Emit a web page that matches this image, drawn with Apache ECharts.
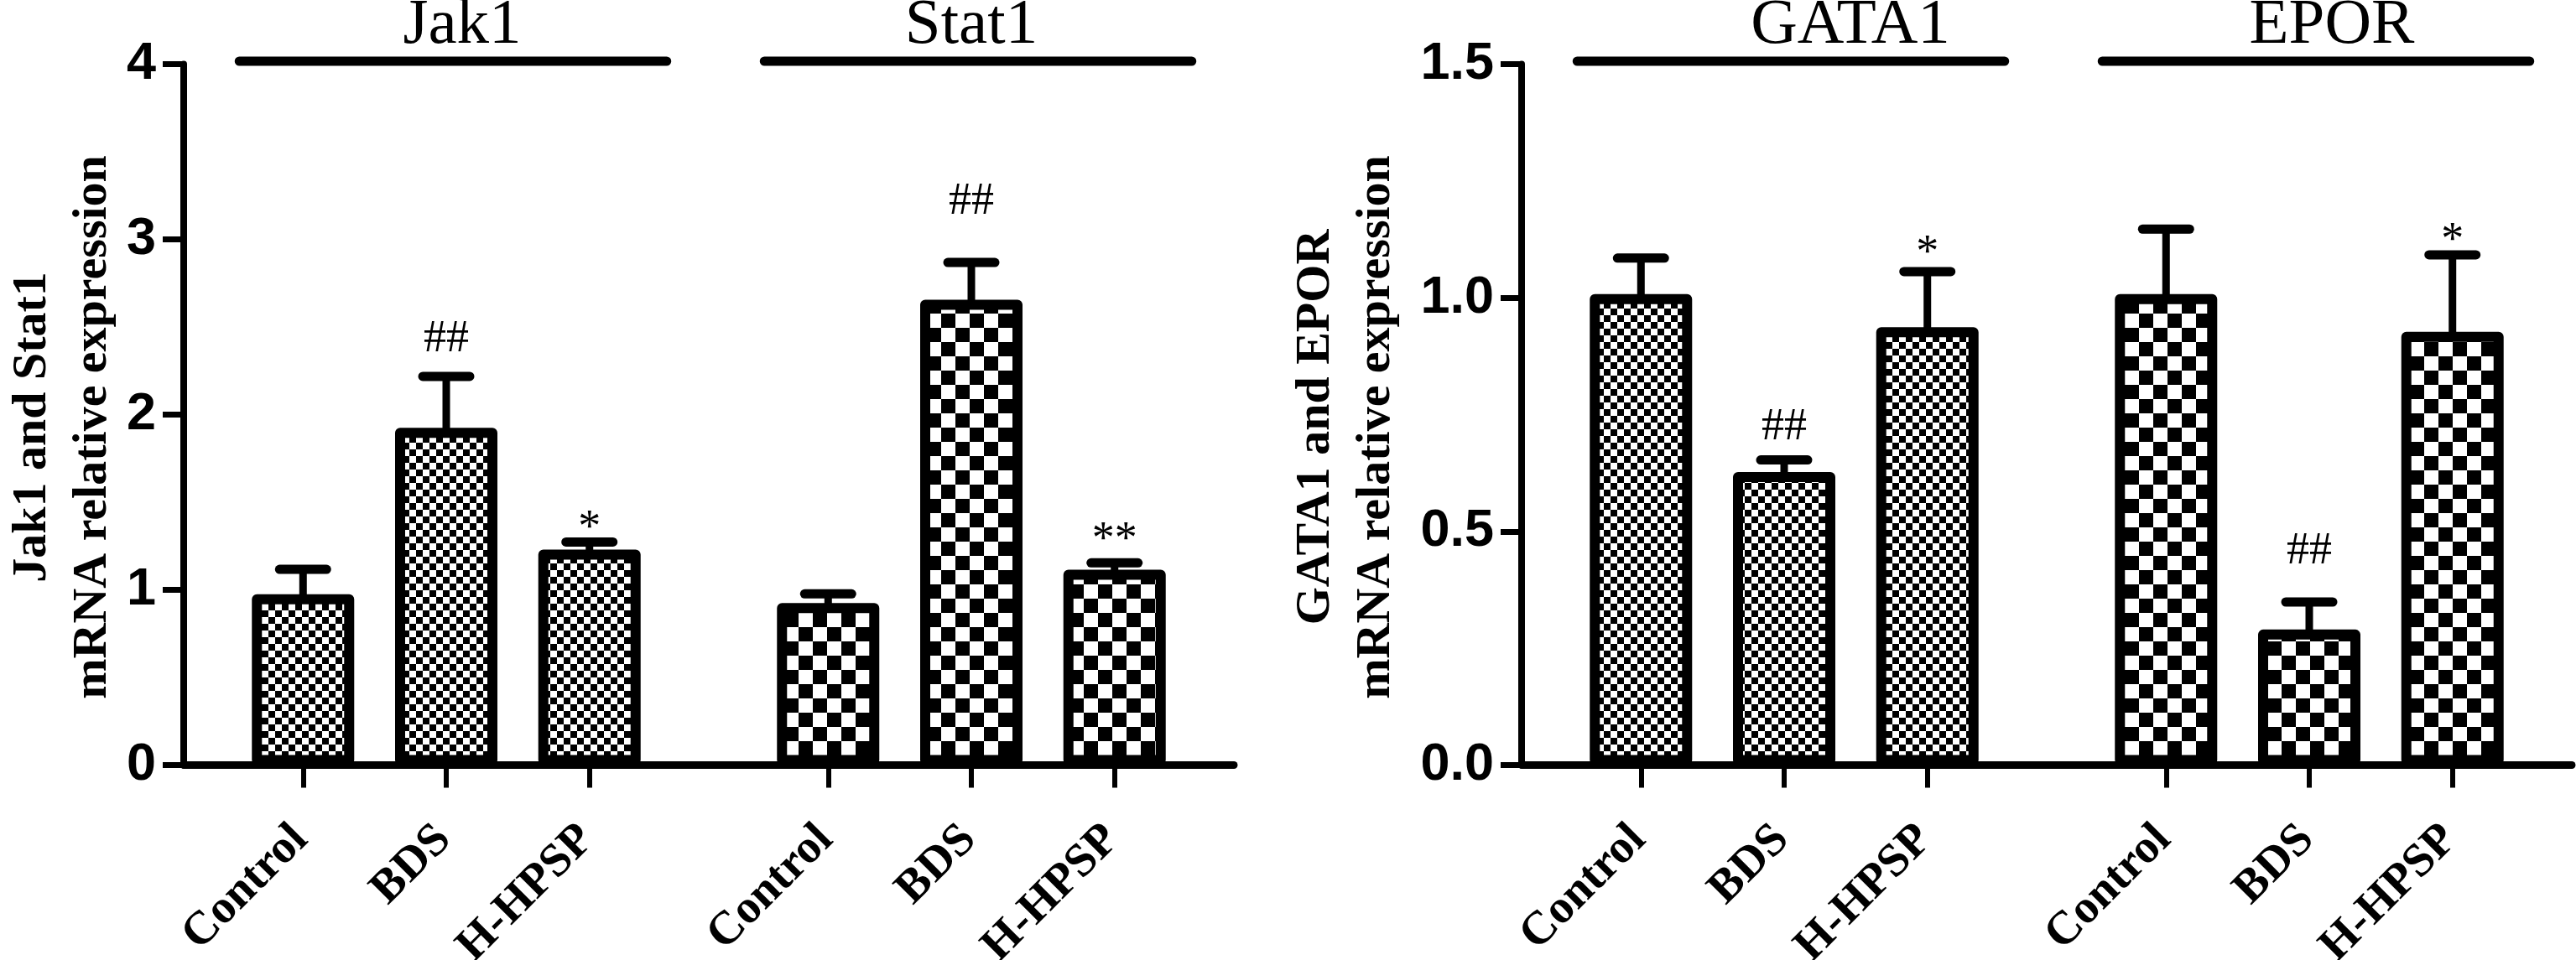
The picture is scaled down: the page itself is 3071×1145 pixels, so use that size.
<!DOCTYPE html>
<html><head><meta charset="utf-8">
<script src="https://cdn.jsdelivr.net/npm/echarts@6/dist/echarts.min.js"></script>
<style>html,body{margin:0;padding:0;background:#fff;} #c{width:3071px;height:1145px;}</style>
</head><body><div id="c"></div>
<script>
// ---------------- data ----------------
const categories = ['Control', 'BDS', 'H-HPSP'];
const leftGroups = ['Jak1', 'Stat1'];
const rightGroups = ['GATA1', 'EPOR'];
const jak1Mean = [0.975, 1.925, 1.23];
const jak1Sem = [0.142, 0.293, 0.043];
const stat1Mean = [0.925, 2.655, 1.115];
const stat1Sem = [0.052, 0.213, 0.039];
const gata1Mean = [1.008, 0.627, 0.937];
const gata1Sem = [0.077, 0.026, 0.119];
const eporMean = [1.008, 0.29, 0.927];
const eporSem = [0.139, 0.059, 0.165];
const jak1Marks = ['', '##', '*'];
const stat1Marks = ['', '##', '**'];
const gata1Marks = ['', '##', '*'];
const eporMarks = ['', '##', '*'];
const leftTickLabels = ['0', '1', '2', '3', '4'];
const rightTickLabels = ['0.0', '0.5', '1.0', '1.5'];
const leftYTitle = ['Jak1 and Stat1', 'mRNA relative expression'];
const rightYTitle = ['GATA1 and EPOR', 'mRNA relative expression'];

// ---------------- layout / style ----------------
const LEAD = 2, STEP = 3, GAP = 5, TOTAL = 22;
function slotIndex(g, c) { return LEAD + g * (2 * STEP + GAP) + c * STEP; }
const slotNames = new Array(TOTAL).fill('');
[0, 1].forEach(g => categories.forEach((n, c) => { slotNames[slotIndex(g, c)] = n; }));

function checker(s) {
  const cv = document.createElement('canvas');
  cv.width = cv.height = 2 * s;
  const ctx = cv.getContext('2d');
  ctx.fillStyle = '#fff'; ctx.fillRect(0, 0, 2 * s, 2 * s);
  ctx.fillStyle = '#000'; ctx.fillRect(0, 0, s, s); ctx.fillRect(s, s, s, s);
  return { image: cv, repeat: 'repeat' };
}
const finePat = checker(8), coarsePat = checker(17);

const SERIF = '"Liberation Serif", "Times New Roman", serif';
const SANS = '"Liberation Sans", Arial, sans-serif';

const panels = [
  { groups: leftGroups, means: [jak1Mean, stat1Mean], sems: [jak1Sem, stat1Sem], marks: [jak1Marks, stat1Marks],
    pats: [finePat, coarsePat], ticks: leftTickLabels, yTitle: leftYTitle, left: 219, nameGap: 60,
    lifts: [[0, 44, 25], [0, 72, 36]], titleShift: [19, 0] },
  { groups: rightGroups, means: [gata1Mean, eporMean], sems: [gata1Sem, eporSem], marks: [gata1Marks, eporMarks],
    pats: [finePat, coarsePat], ticks: rightTickLabels, yTitle: rightYTitle, left: 1814, nameGap: 137,
    lifts: [[0, 39, 30], [0, 60, 25]], titleShift: [79, 27] }
];

const grids = [], xAxes = [], yAxes = [], series = [];
panels.forEach((p, pi) => {
  grids.push({ left: p.left, width: 1252, top: 76.5, height: 836, containLabel: false, outerBoundsMode: 'none' });
  xAxes.push({
    type: 'category', gridIndex: pi, data: slotNames, boundaryGap: true,
    axisLine: { show: true, lineStyle: { color: '#000', width: 9 } },
    axisTick: { show: true, alignWithLabel: true, interval: (i, v) => v !== '', length: 27, lineStyle: { color: '#000', width: 6 } },
    axisLabel: { interval: 0, rotate: 45, align: 'right', verticalAlign: 'top', margin: 38, padding: [0, 32, 0, 0],
      color: '#000', fontFamily: SERIF, fontWeight: 'bold', fontSize: 56 },
    splitLine: { show: false }
  });
  const tmin = Number(p.ticks[0]), tmax = Number(p.ticks[p.ticks.length - 1]);
  const tint = Number(p.ticks[1]) - tmin;
  yAxes.push({
    type: 'value', gridIndex: pi, min: tmin, max: tmax, interval: tint,
    axisLine: { show: true, lineStyle: { color: '#000', width: 8 } },
    axisTick: { show: true, length: 25, lineStyle: { color: '#000', width: 7 } },
    axisLabel: { margin: 33, color: '#000', fontFamily: SANS, fontWeight: 'bold', fontSize: 63,
      formatter: v => p.ticks[Math.round((v - tmin) / tint)] },
    splitLine: { show: false },
    name: p.yTitle.join('\n'), nameLocation: 'middle', nameRotate: 90, nameGap: p.nameGap,
    nameTextStyle: { color: '#000', fontFamily: SERIF, fontWeight: 'bold', fontSize: 58, lineHeight: 72, padding: [0, 30, 0, 0] }
  });
  const barData = new Array(TOTAL).fill(null);
  const items = [];
  p.groups.forEach((gname, g) => {
    categories.forEach((cname, c) => {
      const s = slotIndex(g, c);
      barData[s] = { value: p.means[g][c], itemStyle: { color: p.pats[g] } };
      items.push({ slot: s, mean: p.means[g][c], sem: p.sems[g][c], mark: p.marks[g][c], lift: p.lifts[g][c] });
    });
  });
  series.push({
    type: 'bar', xAxisIndex: pi, yAxisIndex: pi, data: barData, barWidth: 122, z: 3,
    itemStyle: { borderColor: '#000', borderWidth: 12, borderJoin: 'round' }, silent: true
  });
  series.push({
    type: 'custom', xAxisIndex: pi, yAxisIndex: pi, z: 2, clip: false, silent: true,
    data: items.map(it => [it.slot, it.mean + it.sem]),
    encode: { x: 0, y: 1 },
    renderItem: (params, api) => {
      const it = items[params.dataIndex];
      const base = api.coord([it.slot, it.mean]);
      const top = api.coord([it.slot, it.mean + it.sem]);
      const ch = [
        { type: 'line', shape: { x1: base[0], y1: base[1] + 8, x2: top[0], y2: top[1] }, style: { stroke: '#000', lineWidth: 9 } },
        { type: 'line', shape: { x1: top[0] - 28, y1: top[1], x2: top[0] + 28, y2: top[1] }, style: { stroke: '#000', lineWidth: 11, lineCap: 'round' } }
      ];
      if (it.mark) {
        const adj = it.mark.charAt(0) === '*' ? 9 : 0;
        ch.push({ type: 'text', x: top[0], y: top[1] - it.lift + adj,
          style: { text: it.mark, fill: '#000', font: '54px ' + SERIF, align: 'center', verticalAlign: 'middle' } });
      }
      return { type: 'group', children: ch };
    }
  });
});

const chart = echarts.init(document.getElementById('c'));
chart.setOption({ animation: false, backgroundColor: '#fff', grid: grids, xAxis: xAxes, yAxis: yAxes, series: series });

const gfx = [];
panels.forEach((p, pi) => {
  p.groups.forEach((gname, g) => {
    const x0 = chart.convertToPixel({ xAxisIndex: pi }, slotIndex(g, 0));
    const x1 = chart.convertToPixel({ xAxisIndex: pi }, slotIndex(g, 1));
    const x2 = chart.convertToPixel({ xAxisIndex: pi }, slotIndex(g, 2));
    gfx.push({ type: 'line', shape: { x1: x0 - 76, y1: 73, x2: x2 + 92, y2: 73 },
      style: { stroke: '#000', lineWidth: 11, lineCap: 'round' }, silent: true });
    gfx.push({ type: 'text', x: x1 + p.titleShift[g], y: 31,
      style: { text: gname, fill: '#000', font: '77px ' + SERIF, align: 'center', verticalAlign: 'middle' }, silent: true });
  });
});
chart.setOption({ graphic: gfx });
</script>
</body></html>
